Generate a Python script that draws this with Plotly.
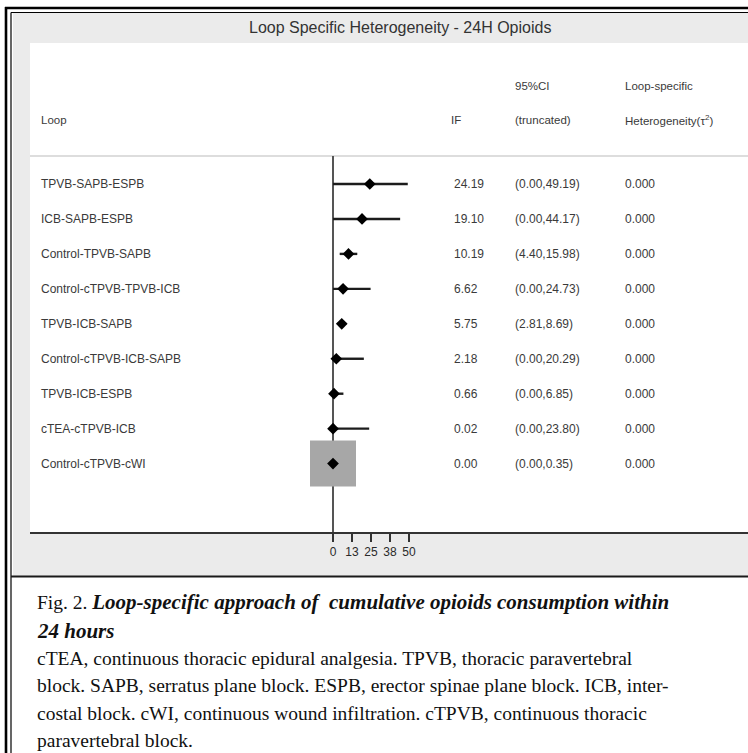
import plotly.graph_objects as go

# Loop-specific heterogeneity, 24 h opioid consumption
loops = ["TPVB-SAPB-ESPB", "ICB-SAPB-ESPB", "Control-TPVB-SAPB",
         "Control-cTPVB-TPVB-ICB", "TPVB-ICB-SAPB", "Control-cTPVB-ICB-SAPB",
         "TPVB-ICB-ESPB", "cTEA-cTPVB-ICB", "Control-cTPVB-cWI"]
if_values = [24.19, 19.10, 10.19, 6.62, 5.75, 2.18, 0.66, 0.02, 0.00]
ci_low = [0.00, 0.00, 4.40, 0.00, 2.81, 0.00, 0.00, 0.00, 0.00]
ci_high = [49.19, 44.17, 15.98, 24.73, 8.69, 20.29, 6.85, 23.80, 0.35]
tau2 = ["0.000", "0.000", "0.000", "0.000", "0.000", "0.000", "0.000", "0.000", "0.000"]
tick_vals = [0, 12.5, 25, 37.5, 50]
tick_text = ["0", "13", "25", "38", "50"]

W, H = 748, 753


def px(v):
    return v / W


def py(v):
    return 1 - v / H


rows = list(range(len(loops)))
ROW0, ROWSTEP = 184.0, 34.95


def row_of(ypix):
    return (ypix - ROW0) / ROWSTEP


PANEL_TOP, AXIS_Y = 43, 532
ZERO_X, UNIT = 333.0, 1.52
PANEL_LEFT = 30

SANS = "Liberation Sans, Arial, sans-serif"
SERIF = "Liberation Serif, Times New Roman, serif"
TXT = "#3a3a3a"

fig = go.Figure()

# weight box of the last loop
fig.add_trace(go.Scatter(
    x=[if_values[-1]], y=[rows[-1]], mode="markers",
    marker=dict(symbol="square", size=46, color="#a7a7a7", line=dict(width=0)),
    hoverinfo="skip", showlegend=False))

# confidence intervals
cx, cy = [], []
for r, lo, hi in zip(rows, ci_low, ci_high):
    cx += [lo, hi, None]
    cy += [r, r, None]
fig.add_trace(go.Scatter(x=cx, y=cy, mode="lines",
                         line=dict(color="#1c1c1c", width=2.4),
                         hoverinfo="skip", showlegend=False))

# inconsistency factors
fig.add_trace(go.Scatter(x=if_values, y=rows, mode="markers",
                         marker=dict(symbol="diamond", size=9, color="#000000"),
                         showlegend=False))

shapes = []
# grey graph region and white plot region
shapes.append(dict(type="rect", xref="paper", yref="paper",
                   x0=px(13), x1=px(W + 5), y0=py(576), y1=py(13),
                   fillcolor="#ebebeb", line=dict(width=0), layer="below"))
shapes.append(dict(type="rect", xref="paper", yref="paper",
                   x0=px(PANEL_LEFT), x1=px(W + 5), y0=py(AXIS_Y), y1=py(PANEL_TOP),
                   fillcolor="#ffffff", line=dict(width=0), layer="below"))
# header separator
shapes.append(dict(type="line", xref="paper", yref="paper",
                   x0=px(PANEL_LEFT), x1=px(W + 5), y0=py(156), y1=py(156),
                   line=dict(color="#d2d2d2", width=1.5), layer="below"))
# line of no inconsistency
shapes.append(dict(type="line", xref="x", yref="paper",
                   x0=0, x1=0, y0=py(AXIS_Y), y1=py(156),
                   line=dict(color="#555555", width=2), layer="below"))
# double frame
shapes.append(dict(type="line", xref="paper", yref="paper",
                   x0=px(6), x1=px(6), y0=py(H + 5), y1=py(7),
                   line=dict(color="#000000", width=2.6)))
shapes.append(dict(type="line", xref="paper", yref="paper",
                   x0=px(5), x1=px(W + 5), y0=py(8), y1=py(8),
                   line=dict(color="#000000", width=2.6)))
shapes.append(dict(type="line", xref="paper", yref="paper",
                   x0=px(11), x1=px(11), y0=py(H + 5), y1=py(12.5),
                   line=dict(color="#000000", width=1.2)))
shapes.append(dict(type="line", xref="paper", yref="paper",
                   x0=px(11), x1=px(W + 5), y0=py(12.5), y1=py(12.5),
                   line=dict(color="#000000", width=1.2)))
shapes.append(dict(type="line", xref="paper", yref="paper",
                   x0=px(11), x1=px(W + 5), y0=py(576.5), y1=py(576.5),
                   line=dict(color="#1a1a1a", width=1.8)))

ann = []
ann.append(dict(text="Loop Specific Heterogeneity - 24H Opioids",
                x=px(400), y=py(28), xref="paper", yref="paper",
                xanchor="center", yanchor="middle", showarrow=False,
                font=dict(family=SANS, size=16, color="#333333")))

HDR = dict(family=SANS, size=11.5, color=TXT)
for text, xx, yy in [("Loop", 39, 120), ("IF", 449, 120),
                     ("95%CI", 513, 86), ("(truncated)", 513, 120),
                     ("Loop-specific", 623, 86),
                     ("Heterogeneity(τ<sup>2</sup>)", 623, 120)]:
    ann.append(dict(text=text, x=px(xx), y=py(yy), xref="paper", yref="paper",
                    xanchor="left", yanchor="middle", showarrow=False, font=HDR))

ROWF = dict(family=SANS, size=12, color=TXT)
for r, name, v, lo, hi, t in zip(rows, loops, if_values, ci_low, ci_high, tau2):
    for text, xx in [(name, 39), (f"{v:.2f}", 452),
                     (f"({lo:.2f},{hi:.2f})", 513), (t, 623)]:
        ann.append(dict(text=text, x=px(xx), y=r, xref="paper", yref="y",
                        xanchor="left", yanchor="middle", showarrow=False, font=ROWF))

caption = [
    ("Fig. 2. <b><i><span style='font-size:21px'>Loop-specific approach of  "
     "cumulative opioids consumption within</span></i></b>", 602),
    ("<b><i><span style='font-size:21px'>24 hours</span></i></b>", 630.5),
    ("cTEA, continuous thoracic epidural analgesia. TPVB, thoracic paravertebral", 658),
    ("block. SAPB, serratus plane block. ESPB, erector spinae plane block. ICB, inter-", 685.5),
    ("costal block. cWI, continuous wound infiltration. cTPVB, continuous thoracic", 713),
    ("paravertebral block.", 740),
]
for line, yy in caption:
    ann.append(dict(text=line, x=px(35), y=py(yy), xref="paper", yref="paper",
                    xanchor="left", yanchor="middle", showarrow=False,
                    font=dict(family=SERIF, size=19.5, color="#111111")))

fig.update_layout(
    width=W, height=H, margin=dict(l=0, r=0, t=0, b=0),
    paper_bgcolor="#ffffff", plot_bgcolor="rgba(0,0,0,0)",
    shapes=shapes, annotations=ann,
    xaxis=dict(domain=[px(PANEL_LEFT), 1],
               range=[-(ZERO_X - PANEL_LEFT) / UNIT, (W - ZERO_X) / UNIT],
               tickmode="array", tickvals=tick_vals, ticktext=tick_text,
               ticks="outside", ticklen=8, tickwidth=2, tickcolor="#333333",
               tickfont=dict(family=SANS, size=12, color="#2a2a2a"),
               showline=True, linecolor="#333333", linewidth=2,
               showgrid=False, zeroline=False, fixedrange=True),
    yaxis=dict(domain=[py(AXIS_Y), py(PANEL_TOP)],
               range=[row_of(AXIS_Y), row_of(PANEL_TOP)],
               visible=False, fixedrange=True),
    showlegend=False,
)

fig.write_html("out.html")
